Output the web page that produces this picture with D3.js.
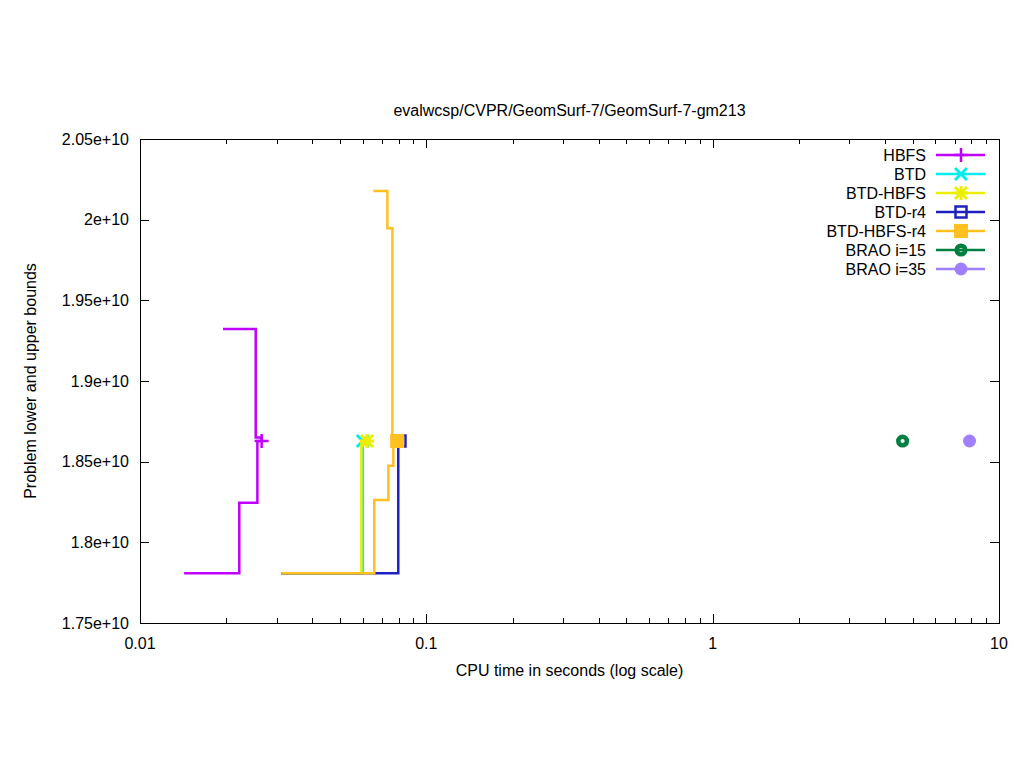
<!DOCTYPE html>
<html>
<head>
<meta charset="utf-8">
<script src="https://cdn.jsdelivr.net/npm/d3@7"></script>
<style>
  body { margin: 0; background: #fff; }
  text { font-family: "Liberation Sans", Arial, sans-serif; font-size: 16px; fill: #000; }
</style>
</head>
<body>
<div id="chart"></div>
<script>
// series names and final (optimum) points
var seriesNames = ["HBFS", "BTD", "BTD-HBFS", "BTD-r4", "BTD-HBFS-r4", "BRAO i=15", "BRAO i=35"];
var seriesColors = ["#c000ff", "#00eeee", "#eeee00", "#2020c0", "#ffc020", "#008040", "#a080ff"];

// [cpu time, bound]
var hbfsUpper = [[0.0195, 1.9323e10], [0.02536, 1.865e10], [0.0266, 1.8628e10]];
var hbfsLower = [[0.01426, 1.7808e10], [0.02222, 1.8246e10], [0.0257, 1.8628e10], [0.0266, 1.8628e10]];
var btdLower = [[0.0311, 1.7808e10], [0.0600, 1.8628e10]];
var btdHbfsLower = [[0.0311, 1.7808e10], [0.0593, 1.8628e10], [0.0621, 1.8628e10]];
var btdR4Lower = [[0.0311, 1.7808e10], [0.0798, 1.8628e10], [0.0809, 1.8628e10]];
var btdHbfsR4Upper = [[0.0653, 2.0178e10], [0.0731, 1.9947e10], [0.0761, 1.8628e10], [0.0791, 1.8628e10]];
var btdHbfsR4Lower = [[0.0311, 1.7808e10], [0.0658, 1.8262e10], [0.0737, 1.8475e10], [0.0767, 1.8628e10], [0.0791, 1.8628e10]];
var finalPoints = [[0.0266, 1.8628e10], [0.0600, 1.8628e10], [0.0621, 1.8628e10], [0.0809, 1.8628e10],
                   [0.0791, 1.8628e10], [4.606, 1.8628e10], [7.89, 1.8628e10]];

var xTicks = [0.01, 0.1, 1, 10];
var xTickLabels = ["0.01", "0.1", "1", "10"];
var yTicks = [1.75e10, 1.8e10, 1.85e10, 1.9e10, 1.95e10, 2e10, 2.05e10];
var yTickLabels = ["1.75e+10", "1.8e+10", "1.85e+10", "1.9e+10", "1.95e+10", "2e+10", "2.05e+10"];

var seriesPaths = [
    [hbfsUpper, hbfsLower],
    [btdLower],
    [btdHbfsLower],
    [btdR4Lower],
    [btdHbfsR4Upper, btdHbfsR4Lower],
    [],
    []
];

var W = 1024, H = 768;
var margin = {top: 139, right: 25, bottom: 145, left: 140},
    width = W - margin.left - margin.right,
    height = H - margin.top - margin.bottom;

var svg = d3.select("#chart").append("svg")
    .attr("width", W)
    .attr("height", H);

var x = d3.scaleLog().domain([0.01, 10]).range([0, width]),
    y = d3.scaleLinear().domain([1.75e10, 2.05e10]).range([height, 0]);

var g = svg.append("g")
    .attr("transform", "translate(" + margin.left + "," + margin.top + ")");

// ticks (inward, mirrored)
var minorTicks = [];
[0.01, 0.1, 1].forEach(function (d) {
    for (var k = 2; k <= 9; k++) minorTicks.push(d * k);
});

var ticks = g.append("g").attr("stroke", "#000").attr("stroke-width", 1);
xTicks.forEach(function (d) {
    var px = Math.round(x(d)) + 0.5;
    ticks.append("line").attr("x1", px).attr("x2", px).attr("y1", height).attr("y2", height - 9);
    ticks.append("line").attr("x1", px).attr("x2", px).attr("y1", 0).attr("y2", 9);
});
minorTicks.forEach(function (d) {
    var px = Math.round(x(d)) + 0.5;
    ticks.append("line").attr("x1", px).attr("x2", px).attr("y1", height).attr("y2", height - 5);
    ticks.append("line").attr("x1", px).attr("x2", px).attr("y1", 0).attr("y2", 5);
});
yTicks.forEach(function (d) {
    var py = Math.round(y(d)) + 0.5;
    ticks.append("line").attr("x1", 0).attr("x2", 9).attr("y1", py).attr("y2", py);
    ticks.append("line").attr("x1", width).attr("x2", width - 9).attr("y1", py).attr("y2", py);
});

// tick labels
xTicks.forEach(function (d, i) {
    g.append("text")
        .attr("x", x(d))
        .attr("y", height + 26)
        .attr("text-anchor", "middle")
        .text(xTickLabels[i]);
});
yTicks.forEach(function (d, i) {
    g.append("text")
        .attr("x", -11)
        .attr("y", y(d) + 5.5)
        .attr("text-anchor", "end")
        .text(yTickLabels[i]);
});

// border
g.append("rect")
    .attr("x", 0.5).attr("y", 0.5)
    .attr("width", width).attr("height", height)
    .attr("fill", "none")
    .attr("stroke", "#000");

// titles
svg.append("text")
    .attr("x", margin.left + width / 2)
    .attr("y", 116)
    .attr("text-anchor", "middle")
    .text("evalwcsp/CVPR/GeomSurf-7/GeomSurf-7-gm213");

svg.append("text")
    .attr("x", margin.left + width / 2)
    .attr("y", 676)
    .attr("text-anchor", "middle")
    .text("CPU time in seconds (log scale)");

svg.append("text")
    .attr("transform", "translate(36," + (margin.top + height / 2) + ") rotate(-90)")
    .attr("text-anchor", "middle")
    .text("Problem lower and upper bounds");

// markers
function drawMarker(sel, i, cx, cy) {
    var c = seriesColors[i];
    var m = sel.append("g").attr("transform", "translate(" + cx + "," + cy + ")");
    if (i === 0) {
        m.append("path").attr("d", "M-7,0H7M0,-7V7").attr("stroke", c).attr("stroke-width", 2.5).attr("fill", "none");
    } else if (i === 1) {
        m.append("path").attr("d", "M-6,-6L6,6M-6,6L6,-6").attr("stroke", c).attr("stroke-width", 3).attr("fill", "none");
    } else if (i === 2) {
        m.append("path").attr("d", "M-6,-6L6,6M-6,6L6,-6M-7,0H7M0,-7V7").attr("stroke", c).attr("stroke-width", 3).attr("fill", "none");
    } else if (i === 3) {
        m.append("rect").attr("x", -5.5).attr("y", -5.5).attr("width", 11).attr("height", 11)
            .attr("stroke", c).attr("stroke-width", 2.5).attr("fill", "none");
    } else if (i === 4) {
        m.append("rect").attr("x", -7).attr("y", -7).attr("width", 14).attr("height", 14).attr("fill", c);
    } else if (i === 5) {
        m.append("circle").attr("r", 4.3).attr("stroke", c).attr("stroke-width", 4.5).attr("fill", "none");
    } else {
        m.append("circle").attr("r", 6.5).attr("fill", c);
    }
}

var line = d3.line()
    .x(function (d) { return x(d[0]); })
    .y(function (d) { return y(d[1]); })
    .curve(d3.curveStepAfter);

var plot = g.append("g");
seriesNames.forEach(function (name, i) {
    seriesPaths[i].forEach(function (pts) {
        plot.append("path")
            .datum(pts)
            .attr("d", line)
            .attr("fill", "none")
            .attr("stroke", seriesColors[i])
            .attr("stroke-width", 2.5);
    });
    drawMarker(plot, i, x(finalPoints[i][0]), y(finalPoints[i][1]));
});

// legend
var legend = svg.append("g");
seriesNames.forEach(function (name, i) {
    var ly = 155 + i * 19;
    legend.append("text")
        .attr("x", 926)
        .attr("y", ly + 5.5)
        .attr("text-anchor", "end")
        .text(name);
    legend.append("line")
        .attr("x1", 936).attr("x2", 985)
        .attr("y1", ly).attr("y2", ly)
        .attr("stroke", seriesColors[i])
        .attr("stroke-width", 2.5);
    drawMarker(legend, i, 961, ly);
});
</script>
</body>
</html>
